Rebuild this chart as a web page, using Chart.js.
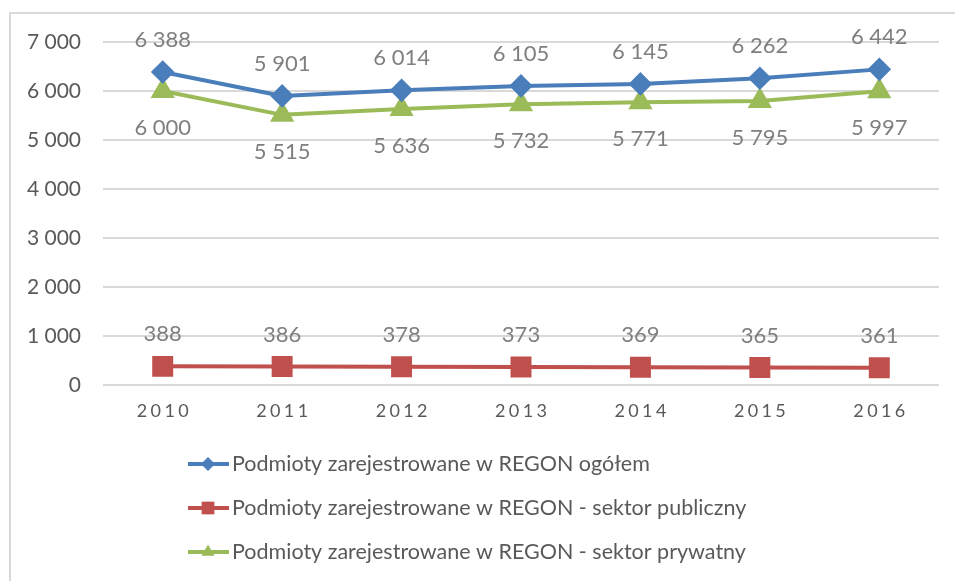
<!DOCTYPE html>
<html lang="pl">
<head>
<meta charset="UTF-8">
<title>Podmioty zarejestrowane w REGON</title>
<script src="https://cdn.jsdelivr.net/npm/chart.js"></script>
<style>
    body { margin: 0; background: #fff; overflow: hidden; }
    .frame {
        position: absolute; left: 9px; top: 12px;
        width: 1000px; height: 700px;
        border-left: 2px solid #d9d9d9;
        border-top: 2px solid #d9d9d9;
    }
    #wrap { position: absolute; left: 0; top: 0; width: 955px; height: 581px; }
</style>
</head>
<body>
<div class="frame"></div>
<div id="wrap"><canvas id="regonChart"></canvas></div>

<script>
const years = ['2010', '2011', '2012', '2013', '2014', '2015', '2016'];
const ogolem = [6388, 5901, 6014, 6105, 6145, 6262, 6442];
const publiczny = [388, 386, 378, 373, 369, 365, 361];
const prywatny = [6000, 5515, 5636, 5732, 5771, 5795, 5997];
const seriesNames = [
    'Podmioty zarejestrowane w REGON ogółem',
    'Podmioty zarejestrowane w REGON - sektor publiczny',
    'Podmioty zarejestrowane w REGON - sektor prywatny'
];

const FONT = 'Lato, "Liberation Sans", sans-serif';

// liczby ze spacją jako separatorem tysięcy
function fmt(v) {
    return String(v).replace(/\B(?=(\d{3})+(?!\d))/g, ' ');
}

// etykiety danych (nad / pod punktem)
const dataLabels = {
    id: 'dataLabels',
    afterDatasetsDraw(chart) {
        const ctx = chart.ctx;
        ctx.save();
        ctx.font = '22px ' + FONT;
        ctx.fillStyle = '#7f7f7f';
        ctx.textAlign = 'center';
        ctx.textBaseline = 'middle';
        chart.data.datasets.forEach((ds, i) => {
            const meta = chart.getDatasetMeta(i);
            meta.data.forEach((pt, j) => {
                const dy = ds.labelPos === 'below' ? 37 : -32;
                ctx.fillText(fmt(ds.data[j]), pt.x, pt.y + dy);
            });
        });
        ctx.restore();
    }
};

// legenda pionowa pod wykresem
const vLegend = {
    id: 'vLegend',
    afterDraw(chart) {
        const ctx = chart.ctx;
        ctx.save();
        chart.data.datasets.forEach((ds, i) => {
            const y = 464 + i * 44;
            ctx.strokeStyle = ds.borderColor;
            ctx.lineWidth = 4;
            ctx.beginPath();
            ctx.moveTo(188, y);
            ctx.lineTo(229, y);
            ctx.stroke();
            ctx.fillStyle = ds.borderColor;
            Chart.helpers.drawPoint(ctx, {
                pointStyle: ds.pointStyle,
                radius: ds.legendRadius,
                borderWidth: 0
            }, 208, y);
            ctx.font = '21.5px ' + FONT;
            ctx.fillStyle = '#595959';
            ctx.textAlign = 'left';
            ctx.textBaseline = 'middle';
            ctx.fillText(seriesNames[i], 232, y);
        });
        ctx.restore();
    }
};

new Chart(document.getElementById('regonChart'), {
    type: 'line',
    data: {
        labels: years,
        datasets: [
            {
                label: seriesNames[0],
                data: ogolem,
                borderColor: '#4A7EBB',
                backgroundColor: '#4A7EBB',
                borderWidth: 4,
                pointStyle: 'rectRot',
                pointRadius: 9,
                legendRadius: 7,
                labelPos: 'above'
            },
            {
                label: seriesNames[1],
                data: publiczny,
                borderColor: '#C0504D',
                backgroundColor: '#C0504D',
                borderWidth: 4,
                pointStyle: 'rect',
                pointRadius: 12,
                legendRadius: 9,
                labelPos: 'above'
            },
            {
                label: seriesNames[2],
                data: prywatny,
                borderColor: '#9BBB59',
                backgroundColor: '#9BBB59',
                borderWidth: 4,
                pointStyle: 'triangle',
                pointRadius: 10,
                legendRadius: 7.5,
                labelPos: 'below'
            }
        ]
    },
    options: {
        responsive: true,
        maintainAspectRatio: false,
        animation: false,
        layout: { padding: { top: 42, right: 15, bottom: 144, left: 0 } },
        plugins: {
            legend: { display: false },
            tooltip: { enabled: false }
        },
        elements: {
            line: { tension: 0 },
            point: { borderWidth: 0 }
        },
        scales: {
            x: {
                offset: true,
                grid: { display: false, drawTicks: false },
                border: { display: false },
                ticks: {
                    color: '#595959',
                    font: { family: FONT, size: 18 },
                    padding: 15,
                    callback: (v, i) => years[i].split('').join('\u200A\u2009')
                }
            },
            y: {
                min: 0,
                max: 7000,
                grid: { color: '#d9d9d9', lineWidth: 2, drawTicks: false },
                border: { display: false },
                ticks: {
                    stepSize: 1000,
                    color: '#595959',
                    font: { family: FONT, size: 21 },
                    padding: 22,
                    callback: v => fmt(v)
                },
                afterFit: scale => { scale.width = 103; }
            }
        }
    },
    plugins: [dataLabels, vLegend]
});
</script>
</body>
</html>
